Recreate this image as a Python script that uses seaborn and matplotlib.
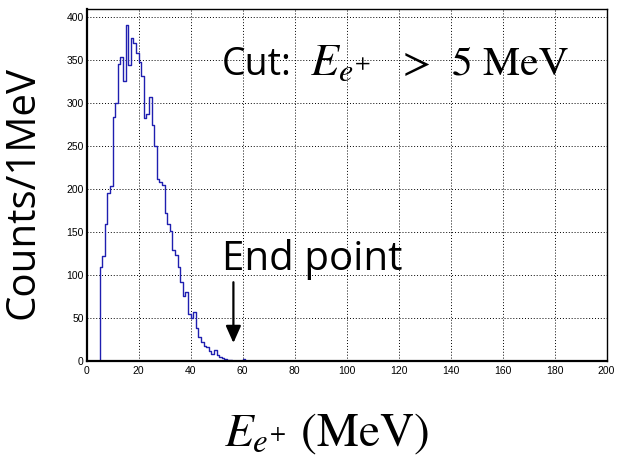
import numpy as np
import pandas as pd
import matplotlib
matplotlib.use("Agg")
import matplotlib.pyplot as plt
from matplotlib.ticker import MultipleLocator
import seaborn as sns

# ---- data: counts per 1 MeV bin ----
first_bin = 5
main_counts = [110, 123, 160, 196, 204, 284, 300, 345, 353, 326,
               390, 344, 375, 370, 358, 347, 331, 282, 287, 307,
               274, 250, 212, 208, 205, 172, 160, 152, 129, 124,
               110, 92, 76, 81, 55, 50, 58, 39, 28, 23,
               18, 17, 12, 9, 13, 8, 5, 4, 3, 2,
               2, 1, 0, 1, 0, 3, 1]
extra_bins = [66, 67, 68, 69, 76, 91, 92, 94, 95, 154]
extra_counts = [1, 1, 1, 1, 1, 1, 1, 1, 1, 1]

x_ticks = [0, 20, 40, 60, 80, 100, 120, 140, 160, 180, 200]
y_ticks = [0, 50, 100, 150, 200, 250, 300, 350, 400]

bins_lo = list(range(first_bin, first_bin + len(main_counts))) + extra_bins
weights = main_counts + extra_counts
df = pd.DataFrame({"energy": np.array(bins_lo) + 0.5, "count": weights})

sns.set_style("white")
plt.rcParams["font.family"] = ["Open Sans", "DejaVu Sans"]
plt.rcParams["mathtext.fontset"] = "stix"
for k in ["text.color", "axes.labelcolor", "xtick.color", "ytick.color"]:
    plt.rcParams[k] = "black"

fig = plt.figure(figsize=(6.17, 4.58), dpi=100)
ax = fig.add_axes([0.1402, 0.2107, 0.8428, 0.7686])

sns.histplot(data=df, x="energy", weights="count", binwidth=1, binrange=(0, 200),
             element="step", fill=False, color="#1f1fb0", linewidth=1.0, ax=ax)

ax.set_xlim(0, 200)
ax.set_ylim(0, 408.5)
ax.set_xticks(x_ticks)
ax.set_yticks(y_ticks)
ax.set_xticklabels([str(v) for v in x_ticks], family="Liberation Sans", fontsize=7.5)
ax.set_yticklabels([str(v) for v in y_ticks], family="Liberation Sans", fontsize=7.5)
ax.xaxis.set_minor_locator(MultipleLocator(5))
ax.yaxis.set_minor_locator(MultipleLocator(10))
ax.tick_params(axis="y", which="major", direction="in", length=10.5, width=1.0, pad=2)
ax.tick_params(axis="y", which="minor", direction="in", length=5, width=1.0)
ax.tick_params(axis="x", which="major", direction="in", length=8, width=1.0, pad=3)
ax.tick_params(axis="x", which="minor", direction="in", length=3.6, width=1.0)
ax.grid(True, which="major", color="black", linestyle=(0, (1, 2)), linewidth=0.7)
ax.set_axisbelow(True)
for side in ["left", "bottom"]:
    ax.spines[side].set_linewidth(1.6)
for side in ["top", "right"]:
    ax.spines[side].set_linewidth(1.0)
for s in ax.spines.values():
    s.set_color("black")
ax.set_xlabel("")
ax.set_ylabel("")

# "Cut: E_{e+} > 5 MeV" annotation, pieces placed along one baseline
ax.text(52.2, 333, "Cut:", fontsize=27, va="baseline", ha="left")
ax.text(86.0, 333, r"$E_{e^{+}}$", fontsize=33, va="baseline", ha="left",
        family="STIXGeneral")
ax.text(119.0, 333, r"$>$", fontsize=30, va="baseline", ha="left",
        family="STIXGeneral")
ax.text(140.5, 333, "5 MeV", fontsize=30, va="baseline", ha="left",
        family="STIXGeneral")

ax.text(52.3, 106, "End point", fontsize=29, va="baseline", ha="left")
ax.annotate("", xy=(56.5, 21.5), xytext=(56.5, 92),
            arrowprops=dict(arrowstyle="-|>,head_length=0.45,head_width=0.2",
                            color="black", lw=1.6, mutation_scale=23,
                            shrinkA=0, shrinkB=0))

fig.text(0.038, 0.58, "Counts/1MeV", rotation=90, fontsize=29,
         ha="center", va="center")
fig.text(0.53, 0.028, r"$E_{e^{+}}$ (MeV)", fontsize=34, family="STIXGeneral",
         ha="center", va="baseline")

fig.savefig("out.png", dpi=100)
